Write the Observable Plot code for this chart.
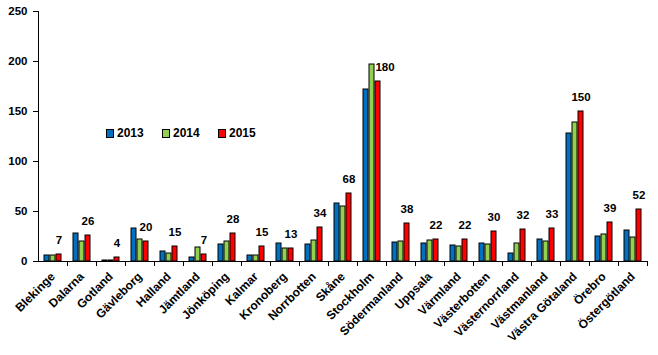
<!DOCTYPE html>
<html>
<head>
<meta charset="utf-8">
<script src="https://cdn.jsdelivr.net/npm/d3@7"></script>
<script src="https://cdn.jsdelivr.net/npm/@observablehq/plot@0.6"></script>
<style>
  body { margin: 0; background: #fff; }
  #wrap { position: relative; width: 658px; height: 355px; font-family: "Liberation Sans", Arial, sans-serif; }
  #legend { position: absolute; left: 106px; top: 126px; display: flex; gap: 0; font-weight: bold; font-size: 12px; color: #000; }
  #legend .item { display: flex; align-items: center; width: 56px; }
  #legend .sw { width: 6px; height: 7px; border: 1px solid #000; margin-right: 3px; }
</style>
</head>
<body>
<div id="wrap"><div id="legend"></div></div>
<script>
const regions = ["Blekinge","Dalarna","Gotland","Gävleborg","Halland","Jämtland","Jönköping","Kalmar","Kronoberg","Norrbotten","Skåne","Stockholm","Södermanland","Uppsala","Värmland","Västerbotten","Västernorrland","Västmanland","Västra Götaland","Örebro","Östergötland"];
const years = ["2013","2014","2015"];
const v2013 = [6,28,1,33,10,4,17,6,18,17,58,172,19,18,16,18,8,22,128,25,31];
const v2014 = [6,20,1,22,8,14,20,6,13,21,55,197,20,21,15,17,18,20,139,27,24];
const v2015 = [7,26,4,20,15,7,28,15,13,34,68,180,38,22,22,30,32,33,150,39,52];
const colors = ["#0070C0","#92D050","#FF0000"];
const yTicks = [0,50,100,150,200,250];

const series = [v2013, v2014, v2015];
const data = regions.flatMap((r, i) => years.map((y, j) => ({region: r, year: y, value: series[j][i]})));
const last = data.filter(d => d.year === "2015");

const W = 658, H = 355, mL = 38, mR = 11, mT = 11, mB = 94;
const step = (W - mL - mR) / regions.length;

const chart = Plot.plot({
  width: W, height: H,
  marginLeft: mL, marginRight: mR, marginTop: mT, marginBottom: mB,
  style: {fontFamily: '"Liberation Sans", Arial, sans-serif', fontSize: "11px", fontWeight: "bold", color: "#000", background: "#fff"},
  fx: {domain: regions, paddingInner: 0, paddingOuter: 0, axis: null, label: null},
  x: {domain: years, paddingInner: 0.1, paddingOuter: 0.8, axis: null},
  y: {domain: [0, 250], axis: null},
  color: {domain: years, range: colors},
  marks: [
    Plot.barY(data, {fx: "region", x: "year", y: "value", fill: "year", stroke: "#000", strokeWidth: 1}),
    Plot.ruleY([0], {stroke: "#000"}),
    Plot.axisY({ticks: yTicks, tickSize: 5, tickPadding: 6, label: null, fontSize: 11.5}),
    Plot.frame({anchor: "left", facetAnchor: "left", stroke: "#000"}),
    Plot.axisFx({anchor: "bottom", tickSize: 5, tickFormat: () => "", dx: step / 2, label: null}),
    Plot.axisFx({anchor: "bottom", tickSize: 0, tickRotate: -45, tickPadding: 13, label: null, fontSize: 12}),
    Plot.text(last.filter(d => d.region !== "Stockholm"), {fx: "region", x: "year", y: "value", text: d => String(d.value), dy: -14, fontSize: 11.5}),
    Plot.text(last.filter(d => d.region === "Stockholm"), {fx: "region", x: "year", y: "value", text: d => String(d.value), dy: -14, dx: 7, fontSize: 11.5})
  ]
});
document.getElementById("wrap").prepend(chart);

const legend = document.getElementById("legend");
years.forEach((y, i) => {
  const it = document.createElement("div");
  it.className = "item";
  it.innerHTML = `<span class="sw" style="background:${colors[i]}"></span><span>${y}</span>`;
  legend.appendChild(it);
});
</script>
</body>
</html>
